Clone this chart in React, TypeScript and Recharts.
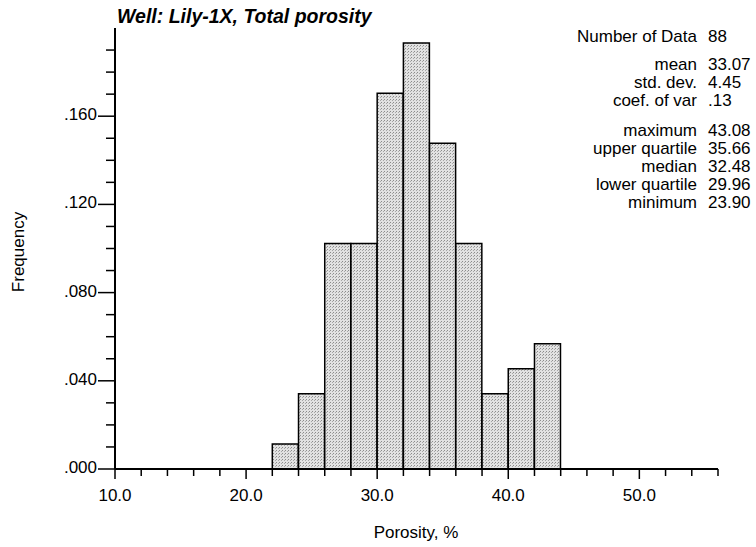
import { BarChart, Bar, XAxis, YAxis } from 'recharts';

// histogram bins (left edge, width 2) and counts per bin
const binStarts = [10, 12, 14, 16, 18, 20, 22, 24, 26, 28, 30, 32, 34, 36, 38, 40, 42, 44, 46, 48, 50, 52, 54];
const counts = [0, 0, 0, 0, 0, 0, 1, 3, 9, 9, 15, 17, 13, 9, 3, 4, 5, 0, 0, 0, 0, 0, 0];
const totalCount = 88;
const binWidth = 2;

const xTicks = [10, 12, 14, 16, 18, 20, 22, 24, 26, 28, 30, 32, 34, 36, 38, 40, 42, 44, 46, 48, 50, 52, 54, 56];
const yTicks = [0, 0.01, 0.02, 0.03, 0.04, 0.05, 0.06, 0.07, 0.08, 0.09, 0.1, 0.11, 0.12, 0.13, 0.14, 0.15, 0.16, 0.17, 0.18, 0.19];

const statLabels = ['Number of Data', 'mean', 'std. dev.', 'coef. of var', 'maximum', 'upper quartile', 'median', 'lower quartile', 'minimum'];
const statValues = ['88', '33.07', '4.45', '.13', '43.08', '35.66', '32.48', '29.96', '23.90'];

const data = binStarts.map((s, i) => ({ mid: s + binWidth / 2, frequency: counts[i] / totalCount }));

const FONT = '"Liberation Sans", Arial, Helvetica, sans-serif';

function XTick(props: any) {
  const { x, y, payload } = props;
  const v = payload.value;
  const major = v % 10 === 0;
  return (
    <g>
      <line x1={x} x2={x} y1={y} y2={y + (major ? 10 : 7)} stroke="#000" strokeWidth={1.5} />
      {major && (
        <text x={x} y={y + 32} textAnchor="middle" fontSize={17} fill="#000" fontFamily={FONT}>
          {v.toFixed(1)}
        </text>
      )}
    </g>
  );
}

function YTick(props: any) {
  const { x, y, payload } = props;
  const v = payload.value;
  const major = Math.round(v * 100) % 4 === 0;
  return (
    <g>
      <line x1={x - (major ? 17 : 9)} x2={x} y1={y} y2={y} stroke="#000" strokeWidth={1.5} />
      {major && (
        <text x={x - 18} y={y + 4} textAnchor="end" fontSize={17} fill="#000" fontFamily={FONT}>
          {v.toFixed(3).replace(/^0/, '')}
        </text>
      )}
    </g>
  );
}

export default function App() {
  return (
    <div style={{ position: 'absolute', left: 0, top: 0, width: 756, height: 547, background: '#fff' }}>
      <BarChart
        width={756}
        height={547}
        data={data}
        margin={{ top: 28, right: 38, left: 8, bottom: 8 }}
        barCategoryGap={0}
        barGap={0}
      >
        <defs>
          <pattern id="stipple" width="3" height="3" patternUnits="userSpaceOnUse">
            <rect width="3" height="3" fill="#e2e2e2" />
            <rect x="0" y="0" width="1" height="1" fill="#8c8c8c" />
            <rect x="2" y="1" width="1" height="1" fill="#a8a8a8" />
          </pattern>
        </defs>
        <XAxis
          dataKey="mid"
          type="number"
          domain={[10, 56]}
          allowDataOverflow
          ticks={xTicks}
          interval={0}
          height={70}
          tickSize={0}
          tickMargin={0}
          tickLine={false}
          axisLine={{ stroke: '#000', strokeWidth: 2 }}
          tick={<XTick />}
        />
        <YAxis
          type="number"
          domain={[0, 0.2]}
          allowDataOverflow
          ticks={yTicks}
          interval={0}
          width={107}
          tickSize={0}
          tickMargin={0}
          tickLine={false}
          axisLine={{ stroke: '#000', strokeWidth: 2 }}
          tick={<YTick />}
        />
        <Bar
          dataKey="frequency"
          fill="url(#stipple)"
          stroke="#000"
          strokeWidth={1.5}
          isAnimationActive={false}
        />
      </BarChart>
      <svg
        width={756}
        height={547}
        style={{ position: 'absolute', left: 0, top: 0, pointerEvents: 'none' }}
        fontFamily={FONT}
      >
        <text x={117} y={23} fontSize={19.5} fontWeight="bold" fontStyle="italic" fill="#000">
          Well: Lily-1X, Total porosity
        </text>
        <text x={416} y={538} textAnchor="middle" fontSize={17} fill="#000">
          Porosity, %
        </text>
        <text x={24} y={252} textAnchor="middle" fontSize={17} fill="#000" transform="rotate(-90 24 252)">
          Frequency
        </text>
        {statLabels.map((label, i) => {
          // rows are grouped: count / moments / order statistics
          const cy = 36 + i * 18 + (i >= 1 ? 10 : 0) + (i >= 4 ? 12 : 0) + 6;
          return (
            <g key={label}>
              <text x={697} y={cy} textAnchor="end" fontSize={17} fill="#000">
                {label}
              </text>
              <text x={708} y={cy} fontSize={17} fill="#000">
                {statValues[i]}
              </text>
            </g>
          );
        })}
      </svg>
    </div>
  );
}
